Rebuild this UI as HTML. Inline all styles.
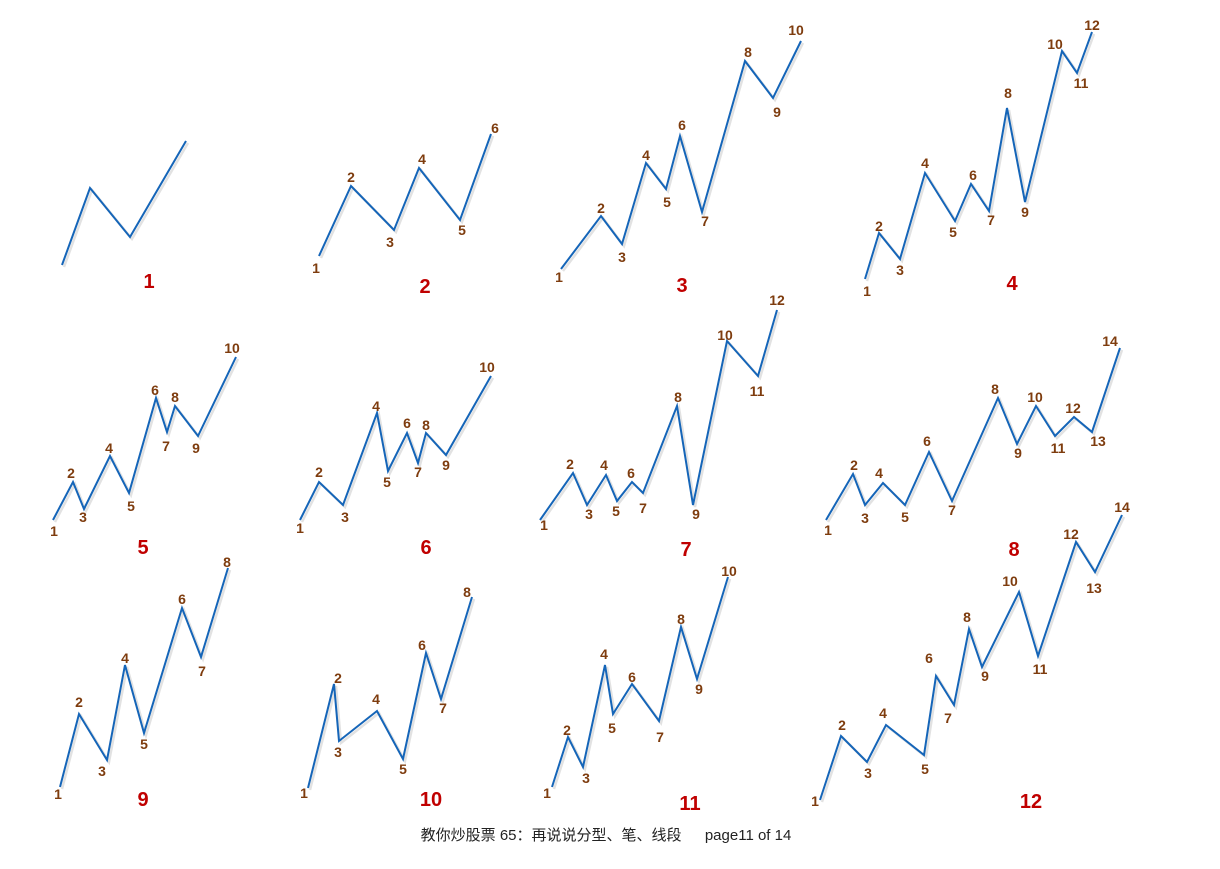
<!DOCTYPE html>
<html><head><meta charset="utf-8"><style>
html,body{margin:0;padding:0;background:#fff;width:1220px;height:869px;overflow:hidden}
svg{display:block}
.s{fill:none;stroke:#e2e2e2;stroke-width:2.5;stroke-linejoin:miter}
.l{fill:none;stroke:#1565b8;stroke-width:2;stroke-linejoin:miter}
.t text{font-family:"Liberation Sans",sans-serif;font-weight:bold;font-size:14px;fill:#7e3c0e;text-anchor:middle;dominant-baseline:central}
.b text{font-family:"Liberation Sans",sans-serif;font-weight:bold;font-size:20px;fill:#c00000;text-anchor:middle;dominant-baseline:central}
.f{font-family:"Liberation Sans","Noto Sans CJK SC",sans-serif;font-size:15px;fill:#222;text-anchor:middle}
</style></head><body>
<svg width="1220" height="869" viewBox="0 0 1220 869" xmlns="http://www.w3.org/2000/svg">
<g transform="translate(2,2)">
<polyline class="s" points="62,265 90,188 130,237 186,141"/>
<polyline class="s" points="319,256 351,186 394,230 419,168 460,220 491,134"/>
<polyline class="s" points="561,269 601,216 622,244 646,163 666,189 680,136 702,212 745,61 773,98 801,41"/>
<polyline class="s" points="865,279 879,233 900,259 925,173 955,221 971,184 989,211 1007,108 1025,202 1062,51 1077,73 1092,32"/>
<polyline class="s" points="53,520 73,482 84,509 110,456 129,493 156,398 167,432 175,406 198,436 236,357"/>
<polyline class="s" points="300,520 319,482 343,505 377,413 388,471 407,433 418,463 426,433 446,455 491,376"/>
<polyline class="s" points="540,520 573,473 587,505 606,475 617,501 632,482 643,493 677,406 693,505 727,341 758,376 777,310"/>
<polyline class="s" points="826,520 853,474 865,505 883,483 905,505 929,452 952,501 998,398 1017,444 1036,406 1055,436 1074,417 1092,432 1120,348"/>
<polyline class="s" points="60,787 79,714 107,760 125,665 144,733 182,608 201,657 228,568"/>
<polyline class="s" points="308,788 334,684 339,741 377,711 403,759 426,653 441,699 472,597"/>
<polyline class="s" points="552,787 568,737 583,767 605,665 613,714 632,684 659,721 681,627 697,679 728,577"/>
<polyline class="s" points="820,800 841,736 867,762 886,725 924,755 936,676 954,705 969,629 982,667 1019,592 1038,656 1076,542 1095,572 1122,515"/>
</g>
<polyline class="l" points="62,265 90,188 130,237 186,141"/>
<polyline class="l" points="319,256 351,186 394,230 419,168 460,220 491,134"/>
<polyline class="l" points="561,269 601,216 622,244 646,163 666,189 680,136 702,212 745,61 773,98 801,41"/>
<polyline class="l" points="865,279 879,233 900,259 925,173 955,221 971,184 989,211 1007,108 1025,202 1062,51 1077,73 1092,32"/>
<polyline class="l" points="53,520 73,482 84,509 110,456 129,493 156,398 167,432 175,406 198,436 236,357"/>
<polyline class="l" points="300,520 319,482 343,505 377,413 388,471 407,433 418,463 426,433 446,455 491,376"/>
<polyline class="l" points="540,520 573,473 587,505 606,475 617,501 632,482 643,493 677,406 693,505 727,341 758,376 777,310"/>
<polyline class="l" points="826,520 853,474 865,505 883,483 905,505 929,452 952,501 998,398 1017,444 1036,406 1055,436 1074,417 1092,432 1120,348"/>
<polyline class="l" points="60,787 79,714 107,760 125,665 144,733 182,608 201,657 228,568"/>
<polyline class="l" points="308,788 334,684 339,741 377,711 403,759 426,653 441,699 472,597"/>
<polyline class="l" points="552,787 568,737 583,767 605,665 613,714 632,684 659,721 681,627 697,679 728,577"/>
<polyline class="l" points="820,800 841,736 867,762 886,725 924,755 936,676 954,705 969,629 982,667 1019,592 1038,656 1076,542 1095,572 1122,515"/>
<g class="t">
<text x="316" y="268">1</text><text x="351" y="177">2</text><text x="390" y="242">3</text><text x="422" y="159">4</text><text x="462" y="230">5</text><text x="495" y="128">6</text>
<text x="559" y="277">1</text><text x="601" y="208">2</text><text x="622" y="257">3</text><text x="646" y="155">4</text><text x="667" y="202">5</text><text x="682" y="125">6</text><text x="705" y="221">7</text><text x="748" y="52">8</text><text x="777" y="112">9</text><text x="796" y="30">10</text>
<text x="867" y="291">1</text><text x="879" y="226">2</text><text x="900" y="270">3</text><text x="925" y="163">4</text><text x="953" y="232">5</text><text x="973" y="175">6</text><text x="991" y="220">7</text><text x="1008" y="93">8</text><text x="1025" y="212">9</text><text x="1055" y="44">10</text><text x="1081" y="83">11</text><text x="1092" y="25">12</text>
<text x="54" y="531">1</text><text x="71" y="473">2</text><text x="83" y="517">3</text><text x="109" y="448">4</text><text x="131" y="506">5</text><text x="155" y="390">6</text><text x="166" y="446">7</text><text x="175" y="397">8</text><text x="196" y="448">9</text><text x="232" y="348">10</text>
<text x="300" y="528">1</text><text x="319" y="472">2</text><text x="345" y="517">3</text><text x="376" y="406">4</text><text x="387" y="482">5</text><text x="407" y="423">6</text><text x="418" y="472">7</text><text x="426" y="425">8</text><text x="446" y="465">9</text><text x="487" y="367">10</text>
<text x="544" y="525">1</text><text x="570" y="464">2</text><text x="589" y="514">3</text><text x="604" y="465">4</text><text x="616" y="511">5</text><text x="631" y="473">6</text><text x="643" y="508">7</text><text x="678" y="397">8</text><text x="696" y="514">9</text><text x="725" y="335">10</text><text x="757" y="391">11</text><text x="777" y="300">12</text>
<text x="828" y="530">1</text><text x="854" y="465">2</text><text x="865" y="518">3</text><text x="879" y="473">4</text><text x="905" y="517">5</text><text x="927" y="441">6</text><text x="952" y="510">7</text><text x="995" y="389">8</text><text x="1018" y="453">9</text><text x="1035" y="397">10</text><text x="1058" y="448">11</text><text x="1073" y="408">12</text><text x="1098" y="441">13</text><text x="1110" y="341">14</text>
<text x="58" y="794">1</text><text x="79" y="702">2</text><text x="102" y="771">3</text><text x="125" y="658">4</text><text x="144" y="744">5</text><text x="182" y="599">6</text><text x="202" y="671">7</text><text x="227" y="562">8</text>
<text x="304" y="793">1</text><text x="338" y="678">2</text><text x="338" y="752">3</text><text x="376" y="699">4</text><text x="403" y="769">5</text><text x="422" y="645">6</text><text x="443" y="708">7</text><text x="467" y="592">8</text>
<text x="547" y="793">1</text><text x="567" y="730">2</text><text x="586" y="778">3</text><text x="604" y="654">4</text><text x="612" y="728">5</text><text x="632" y="677">6</text><text x="660" y="737">7</text><text x="681" y="619">8</text><text x="699" y="689">9</text><text x="729" y="571">10</text>
<text x="815" y="801">1</text><text x="842" y="725">2</text><text x="868" y="773">3</text><text x="883" y="713">4</text><text x="925" y="769">5</text><text x="929" y="658">6</text><text x="948" y="718">7</text><text x="967" y="617">8</text><text x="985" y="676">9</text><text x="1010" y="581">10</text><text x="1040" y="669">11</text><text x="1071" y="534">12</text><text x="1094" y="588">13</text><text x="1122" y="507">14</text>
</g>
<g class="b">
<text x="149" y="282">1</text><text x="425" y="287">2</text><text x="682" y="286">3</text><text x="1012" y="284">4</text>
<text x="143" y="548">5</text><text x="426" y="548">6</text><text x="686" y="550">7</text><text x="1014" y="550">8</text>
<text x="143" y="800">9</text><text x="431" y="800">10</text><text x="690" y="804">11</text><text x="1031" y="802">12</text>
</g>
<text class="f" x="606" y="840">教你炒股票 65：再说说分型、笔、线段 　   page11 of 14</text>
</svg>
</body></html>
